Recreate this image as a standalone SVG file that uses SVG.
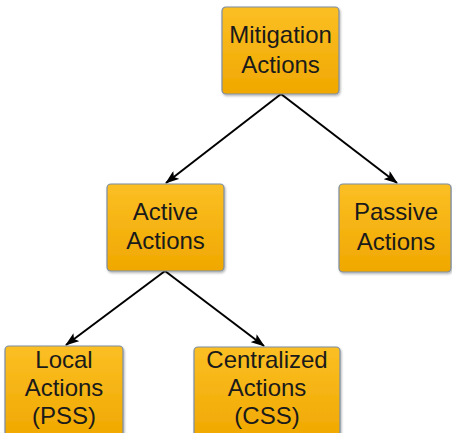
<svg xmlns="http://www.w3.org/2000/svg" width="452" height="433" viewBox="0 0 452 433">
<defs>
<linearGradient id="g" x1="0" y1="0" x2="0" y2="1">
<stop offset="0" stop-color="#FBBF24"/>
<stop offset="1" stop-color="#F0A800"/>
</linearGradient>
<filter id="sh" x="-10%" y="-10%" width="130%" height="130%">
<feDropShadow dx="1" dy="1.5" stdDeviation="1.2" flood-color="#000" flood-opacity="0.3"/>
</filter>
<marker id="ah" viewBox="0 0 14 10" refX="13" refY="5" markerWidth="14" markerHeight="10" markerUnits="userSpaceOnUse" orient="auto">
<path d="M0,0 L14,5 L0,10 L3,5 z" fill="#000"/>
</marker>
</defs>
<style>
.box{fill:url(#g);stroke:#7C8DA3;stroke-width:1.2;filter:url(#sh)}
.t{font-family:"Liberation Sans",Arial,sans-serif;font-size:24px;fill:#1a1a1a;text-anchor:middle}
.c{stroke:#000;stroke-width:2;fill:none;marker-end:url(#ah)}
</style>
<g id="connectors">
<line class="c" x1="281" y1="94" x2="166" y2="183"/>
<line class="c" x1="281" y1="94" x2="397" y2="183"/>
<line class="c" x1="165" y1="271" x2="66" y2="345"/>
<line class="c" x1="165" y1="271" x2="264" y2="346"/>
</g>
<g id="mitigation">
<rect class="box" x="222" y="7" width="117" height="87" rx="4"/>
<text class="t" x="280.5" y="43">Mitigation</text>
<text class="t" x="280.5" y="73">Actions</text>
</g>
<g id="active">
<rect class="box" x="107" y="184" width="117" height="87" rx="4"/>
<text class="t" x="165.5" y="220">Active</text>
<text class="t" x="165.5" y="249">Actions</text>
</g>
<g id="passive">
<rect class="box" x="339" y="184" width="112" height="88" rx="4"/>
<text class="t" x="396" y="220">Passive</text>
<text class="t" x="396" y="250">Actions</text>
</g>
<g id="local">
<rect class="box" x="5" y="346" width="118" height="92" rx="4"/>
<text class="t" x="64" y="368">Local</text>
<text class="t" x="64" y="396">Actions</text>
<text class="t" x="64" y="424">(PSS)</text>
</g>
<g id="centralized">
<rect class="box" x="194" y="347" width="146" height="92" rx="4"/>
<text class="t" x="267" y="368">Centralized</text>
<text class="t" x="267" y="396">Actions</text>
<text class="t" x="267" y="424">(CSS)</text>
</g>
</svg>
